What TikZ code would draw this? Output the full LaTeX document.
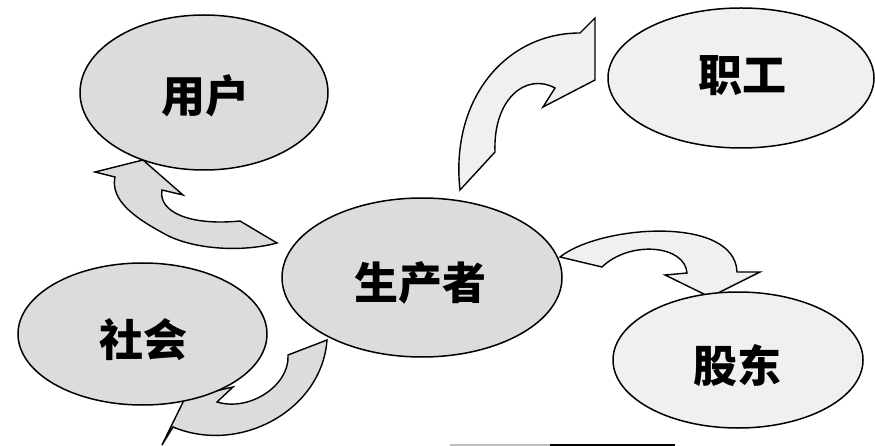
\documentclass[tikz,border=0pt]{standalone}
\usepackage{fontspec}
\newfontfamily\cjk{Noto Sans CJK SC}
\usetikzlibrary{shapes.geometric}
\definecolor{dense}{HTML}{DCDCDC}
\definecolor{sparse}{HTML}{F0F0F0}
\tikzset{
  ell/.style={ellipse, draw=black, line width=1.5pt, inner sep=0pt},
  blockarrow/.style={draw=black, line width=1.4pt, line join=miter},
  lbl/.style={font=\cjk\bfseries\fontsize{44}{44}\selectfont, inner sep=0pt}
}
\begin{document}
\begin{tikzpicture}[x=1pt,y=-1pt]
\useasboundingbox (0,0) rectangle (875,446);
\fill[white] (0,0) rectangle (875,446);

% block arrows
% producer -> users
\path[blockarrow, fill=dense] (95,172) -- (143,160) -- (183,195) -- (162,190)
  .. controls (158,212) and (190,226) .. (240,221) -- (277,243)
  .. controls (240,253) and (190,249) .. (163,233)
  .. controls (135,218) and (110,200) .. (115,177) -- cycle;
% producer -> staff
\path[blockarrow, fill=sparse] (460,190) .. controls (450,100) and (505,33) .. (580,33)
  -- (595,18) -- (595,80) -- (543,107) -- (555,88)
  .. controls (525,72) and (493,100) .. (495,152) -- cycle;
% producer -> shareholders
\path[blockarrow, fill=sparse] (560,257) .. controls (600,225) and (735,215) .. (737,272)
  -- (760,272) -- (710,297) -- (665,275) -- (687,273)
  .. controls (685,245) and (630,240) .. (602,267) -- cycle;
% producer -> society
\path[blockarrow, fill=dense] (327,340) .. controls (322,410) and (240,455) .. (173,427)
  -- (162,445) -- (185,398) -- (233,387) -- (217,402)
  .. controls (250,412) and (290,385) .. (288,355) -- cycle;

% ellipses
\node[ell, fill=dense, minimum width=248pt, minimum height=155pt] (yonghu) at (204,92.5) {};
\node[ell, fill=sparse, minimum width=266pt, minimum height=140pt] (zhigong) at (741,78) {};
\node[ell, fill=dense, minimum width=280pt, minimum height=159pt] (shengchan) at (422,277.5) {};
\node[ell, fill=dense, minimum width=249pt, minimum height=142pt] (shehui) at (142.5,334) {};
\node[ell, fill=sparse, minimum width=250pt, minimum height=136pt] (gudong) at (738,360) {};

% labels
\node[lbl] (t1) at (205,96) {用户};
\node[lbl] (t2) at (742,76) {职工};
\node[lbl] (t3) at (420,283) {生产者};
\node[lbl] (t4) at (143,340) {社会};
\node[lbl] (t5) at (737,366) {股东};

% scan line at bottom
\coordinate (g1) at (450,445);
\coordinate (g2) at (550,445);
\coordinate (g3) at (675,445);
\draw[line width=1.5pt, gray!50] (g1) -- (g2);
\draw[line width=1.5pt, black] (g2) -- (g3);
\end{tikzpicture}
\end{document}
